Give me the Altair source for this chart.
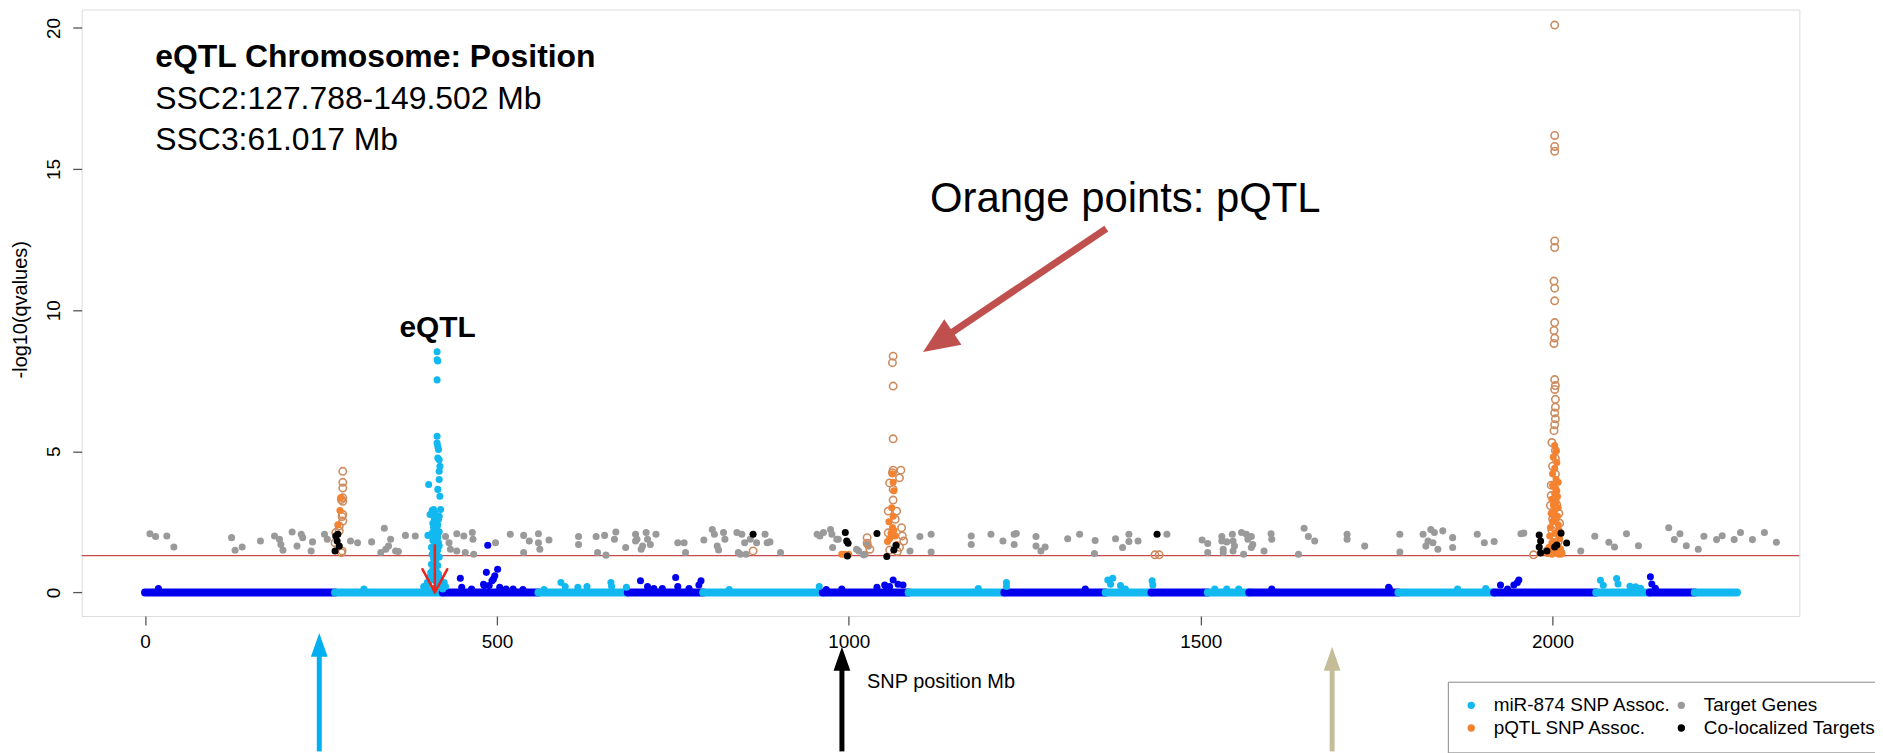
import altair as alt
import pandas as pd

FONT = "Liberation Sans"

# ---------------- data ----------------
# chromosome segments along the baseline (SNP position, Mb)
chr_start = [0, 270, 423, 559, 686, 793, 963, 1085, 1221, 1365, 1430, 1510, 1569, 1781, 1917, 2062, 2138, 2202]
chr_end = [270, 423, 559, 686, 793, 963, 1085, 1221, 1365, 1430, 1510, 1569, 1781, 1917, 2062, 2138, 2202, 2262]

# small associations on the dark-blue chromosomes
blue_x = [19, 448, 450, 464, 481, 482, 485, 489, 493, 495, 497, 501, 504, 513, 523, 537, 487,
          704, 714, 723, 735, 754, 757, 773, 787, 790,
          968, 990, 1040, 1051, 1054, 1058, 1063, 1070, 1077,
          1336, 1601, 1767, 1768, 1926, 1936, 1945, 1950, 1952, 2139, 2141, 2146]
blue_y = [0.14, 0.50, 0.18, 0.12, 0.29, 0.24, 0.71, 0.24, 0.41, 0.47, 0.59, 0.82, 0.18, 0.12, 0.12, 0.10, 1.67,
          0.41, 0.21, 0.14, 0.14, 0.53, 0.21, 0.14, 0.26, 0.41,
          0.10, 0.12, 0.18, 0.26, 0.14, 0.21, 0.44, 0.29, 0.26,
          0.12, 0.12, 0.18, 0.14, 0.26, 0.12, 0.26, 0.35, 0.44, 0.55, 0.30, 0.15]

# miR-874 SNP associations (light blue), incl. the eQTL peak
cyan_x = [311, 396, 401, 406, 425, 427, 567, 591, 597, 615, 628, 662, 663, 684, 830, 958, 1184,
          1224, 1224, 1368, 1375, 1372, 1386, 1393, 1431, 1432, 1520, 1537, 1554, 1865, 1905,
          2068, 2072, 2091, 2093, 2110, 2118, 2125,
          415, 415, 416, 415, 415, 415, 416, 417, 416, 418, 419, 418, 403, 418, 416, 419, 410, 420,
          405, 417, 415, 402, 410, 417,
          408, 412, 418, 411, 413, 409, 416, 410, 413, 418, 408, 412, 416, 409, 414, 411, 418, 407,
          413, 416, 410, 412, 408, 415, 418, 410, 413, 407, 416, 411, 409, 414, 406, 417, 411, 405,
          419, 408, 413, 403, 416, 420, 400, 410, 423, 398]
cyan_y = [0.12, 0.21, 0.35, 0.47, 0.35, 0.21, 0.10, 0.35, 0.21, 0.18, 0.21, 0.35, 0.21, 0.18, 0.10, 0.21, 0.14,
          0.35, 0.21, 0.44, 0.50, 0.29, 0.24, 0.12, 0.41, 0.26, 0.12, 0.12, 0.12, 0.12, 0.14,
          0.43, 0.25, 0.49, 0.30, 0.22, 0.20, 0.15,
          8.53, 8.24, 8.20, 7.53, 5.53, 5.29, 5.17, 5.06, 4.76, 4.70, 4.47, 4.29, 3.82, 4.00, 3.65, 3.41, 2.94, 2.94,
          2.76, 2.59, 2.35, 2.02, 1.88, 1.76,
          2.90, 2.80, 2.70, 2.60, 2.50, 2.45, 2.40, 2.30, 2.20, 2.15, 2.10, 2.00, 1.95, 1.85, 1.80, 1.70, 1.65, 1.60,
          1.55, 1.50, 1.45, 1.40, 1.35, 1.30, 1.25, 1.20, 1.10, 1.00, 0.95, 0.90, 0.80, 0.75, 0.70, 0.65, 0.60, 0.55,
          0.50, 0.45, 0.40, 0.35, 0.30, 0.25, 0.20, 0.15, 0.12, 0.10]

# target genes (grey)
gene_x = [7, 15, 31, 41, 123, 128, 138, 164, 184, 191, 193, 196, 209, 216, 222, 224, 238, 236, 255, 259,
          292, 302, 322, 340, 335, 342, 346, 349, 356, 360, 370, 384, 427, 432, 434, 443, 443, 453, 455, 465,
          466, 467, 498, 519, 538, 538, 546, 559, 559,
          561, 574, 616, 616, 641, 643, 653, 655, 669, 667, 683, 697, 697, 699, 705, 707, 712, 714, 718, 726,
          757, 766, 768, 794, 806, 809, 813, 815, 822, 824, 841, 848, 843, 852, 854, 846, 860, 869, 881, 884,
          888, 903, 955, 964, 974, 976, 977, 985, 959, 983, 1011, 1021, 1028, 1014, 1023, 1026, 1087, 1101,
          1117, 1117, 1174, 1174, 1202,
          1219, 1235, 1235, 1238, 1266, 1266, 1273, 1279, 1311, 1328, 1350, 1349, 1379, 1389, 1398, 1398, 1411,
          1452, 1502, 1510, 1510, 1530, 1530, 1532, 1532, 1537, 1545, 1546, 1546, 1548, 1558, 1561, 1565, 1567,
          1572, 1572, 1574, 1590, 1600, 1601, 1639, 1647, 1653, 1662, 1708, 1708, 1733, 1783, 1783,
          1816, 1823, 1827, 1830, 1832, 1837, 1844, 1820, 1858, 1858, 1893, 1903, 1917, 1955, 1959,
          2040, 2060, 2080, 2088, 2105, 2122, 2165, 2173, 2181, 2190, 2207, 2215, 2233, 2241, 2258, 2267,
          2284, 2301, 2318]
gene_y = [2.08, 1.98, 2.00, 1.61, 1.94, 1.49, 1.61, 1.82, 2.00, 1.88, 1.70, 1.49, 2.14, 1.64, 2.06, 1.94, 1.79,
          1.47, 2.06, 1.88, 1.82, 1.76, 1.79, 2.27, 1.41, 1.53, 1.64, 1.88, 1.47, 1.45, 2.02, 2.00, 1.98, 1.76,
          1.53, 2.08, 1.47, 2.00, 1.41, 2.12, 1.88, 1.35, 1.76, 2.06, 2.02, 1.41, 1.82, 2.08, 1.76,
          1.53, 1.86, 1.98, 1.70, 1.98, 1.41, 2.02, 1.32, 2.14, 1.88, 1.59, 2.06, 1.82, 1.88, 1.53, 1.64, 2.12,
          1.88, 1.70, 2.06, 1.76, 1.76, 1.41, 1.86, 2.23, 2.06, 1.64, 1.50, 2.12, 1.88, 2.12, 2.06, 1.41, 1.76,
          1.35, 1.35, 1.88, 1.76, 2.06, 1.76, 1.79, 1.41, 2.06, 2.12, 2.23, 2.06, 1.59, 1.88, 2.00, 1.88, 1.53,
          1.33, 1.64, 1.47, 1.35, 1.70, 1.47, 1.98, 2.06, 1.43, 2.00, 1.70, 2.06,
          1.82, 2.06, 1.70, 2.09, 1.98, 1.64, 1.47, 1.61, 1.90, 2.06, 1.84, 1.38, 1.90, 1.59, 2.06, 1.80, 1.82,
          2.06, 1.86, 1.73, 1.41, 1.98, 1.82, 1.53, 1.41, 1.79, 2.06, 1.82, 1.47, 1.64, 2.12, 1.35, 2.06, 1.88,
          1.98, 1.59, 1.70, 1.47, 2.08, 1.88, 1.35, 2.27, 1.98, 1.82, 2.06, 1.88, 1.64, 2.06, 1.43,
          2.06, 1.82, 2.23, 1.76, 2.12, 1.53, 2.18, 1.64, 1.94, 1.59, 2.06, 1.76, 1.80, 2.08, 2.10,
          1.47, 1.99, 1.78, 1.61, 2.08, 1.65, 2.29, 1.87, 2.08, 1.65, 1.53, 1.99, 1.87, 2.01, 1.87, 2.12,
          1.87, 2.12, 1.78]

# co-localized targets (black)
coloc_x = [271, 274, 273, 276, 270, 864, 995, 997, 999, 998, 1040, 1067, 1064, 1054, 1438,
           1981, 1983, 1981, 1983, 1992, 2012, 2003, 2006, 2020]
coloc_y = [2.00, 2.06, 1.82, 1.64, 1.47, 2.06, 2.12, 1.82, 1.74, 1.29, 2.09, 1.67, 1.50, 1.27, 2.06,
           2.03, 1.82, 1.61, 1.40, 1.47, 2.10, 1.61, 1.68, 1.75]

# pQTL SNP associations, filled (orange)
pqtl_fill_x = [278, 277, 274, 990, 994, 1000, 1055, 1058, 1060, 1062, 1066, 1064, 1068, 1057, 1063, 1061,
               1064, 1063, 1062,
               2003, 2005, 2001, 2006, 2003, 2000, 2005, 2008, 2000, 2006, 2003, 2007, 1999, 2005, 2001, 2008,
               2003, 1998, 2007, 2005, 2000, 2008, 1997, 2009, 2003, 1996, 2010, 2001, 2006, 1995, 2011, 2003,
               1994, 2012, 2005, 1993, 2013, 1999, 2009, 2004, 2002, 2007, 1999]
pqtl_fill_y = [3.35, 2.90, 2.40, 1.35, 1.35, 1.35, 1.80, 1.90, 2.10, 2.30, 2.00, 2.20, 1.70, 2.50, 2.70, 3.00,
               3.60, 3.90, 4.20,
               5.20, 5.00, 4.80, 4.60, 4.40, 4.20, 4.00, 3.90, 3.80, 3.60, 3.50, 3.40, 3.30, 3.20, 3.10, 3.00,
               2.90, 2.80, 2.70, 2.60, 2.50, 2.40, 2.30, 2.20, 2.10, 2.00, 1.90, 1.80, 1.70, 1.60, 1.55, 1.50,
               1.45, 1.42, 1.40, 1.38, 1.36, 1.35, 1.35, 3.70, 2.65, 2.05, 1.75]

# pQTL SNP associations, open circles
pqtl_open_x = [281, 281, 281, 281, 279, 281, 281, 280, 281, 276, 276, 271, 270, 280, 279,
               864,
               1063, 1062, 1063, 1063, 1063, 1074, 1062, 1072, 1058, 1063, 1063, 1056, 1068, 1066, 1075, 1056,
               1026, 1026, 1030, 1076, 1078, 1069, 1072, 1058,
               1435, 1441, 1973,
               2003, 2003, 2003, 2003, 2003, 2003, 2002, 2003, 2003, 2003, 2002, 2003, 2002, 2003, 2004, 2003,
               2004, 2004, 2003, 2004, 2003, 2002, 1999, 2004, 2004, 2000, 2004, 1998, 1998, 1997, 2009, 2010,
               2009, 1992, 2012, 2000, 2006, 1999, 2008]
pqtl_open_y = [4.29, 3.90, 3.70, 3.35, 3.29, 3.23, 2.76, 2.69, 2.53, 2.35, 2.18, 2.12, 1.76, 1.47, 1.41,
               1.47,
               8.37, 8.14, 7.31, 5.44, 4.33, 4.33, 4.24, 4.06, 3.88, 3.65, 3.27, 2.88, 2.88, 2.59, 2.29, 2.11,
               1.94, 1.74, 1.53, 2.00, 1.82, 1.45, 1.60, 1.50,
               1.33, 1.33, 1.33,
               20.10, 16.19, 15.80, 15.63, 12.45, 12.22, 11.03, 10.78, 10.33, 9.56, 9.28, 9.01, 8.82, 7.54, 7.33,
               7.19, 6.84, 6.56, 6.36, 6.15, 5.94, 5.73, 5.31, 5.03, 4.75, 4.47, 4.19, 3.80, 3.43, 3.08, 2.80,
               2.45, 2.10, 1.47, 1.40, 2.60, 3.10, 2.20, 1.80]

THRESH = 1.3  # -log10(0.05) significance line
x_ticks = [0, 500, 1000, 1500, 2000]
y_ticks = [0, 5, 10, 15, 20]

LBL_MIR = "miR-874 SNP Assoc."
LBL_MIR2 = "miR-874 SNP Assoc. (alt. chromosome)"
LBL_GENE = "Target Genes"
LBL_PQTL = "pQTL SNP Assoc."
LBL_COLOC = "Co-localized Targets"
legend_labels = [LBL_MIR, LBL_PQTL, LBL_GENE, LBL_COLOC]

CYAN = "#12B8F0"
BLUE = "#0000EE"
GREY = "#9A9A9A"
ORANGE = "#F4822F"
OPEN = "#CD8C5F"

# ---------------- tables ----------------
band_df = pd.DataFrame({
    "start": chr_start,
    "end": chr_end,
    "band": ["dark" if i % 2 == 0 else "light" for i in range(len(chr_start))],
})

pts1 = pd.concat([
    pd.DataFrame({"x": gene_x, "y": gene_y, "grp": LBL_GENE}),
    pd.DataFrame({"x": blue_x, "y": blue_y, "grp": LBL_MIR2}),
    pd.DataFrame({"x": cyan_x, "y": cyan_y, "grp": LBL_MIR}),
], ignore_index=True)
pts2 = pd.concat([
    pd.DataFrame({"x": pqtl_fill_x, "y": pqtl_fill_y, "grp": LBL_PQTL}),
    pd.DataFrame({"x": coloc_x, "y": coloc_y, "grp": LBL_COLOC}),
], ignore_index=True)
open_df = pd.DataFrame({"x": pqtl_open_x, "y": pqtl_open_y})
one = pd.DataFrame({"k": [0]})

# ---------------- scales / axes ----------------
xscale = alt.Scale(domain=[-90, 2350.6], nice=False, zero=False)
yscale = alt.Scale(domain=[-0.836, 20.65], nice=False, zero=False)
xaxis = alt.Axis(values=x_ticks, format="d", title="SNP position Mb", domain=False, grid=False,
                 tickSize=9, tickWidth=1.3, tickColor="#555555",
                 labelFont=FONT, labelFontSize=19, labelColor="black", labelPadding=8,
                 titleFont=FONT, titleFontSize=20, titleFontWeight="normal", titleColor="black",
                 titleX=862.5, titleY=72, titleAlign="center", titleBaseline="alphabetic")
yaxis = alt.Axis(values=y_ticks, format="d", title="-log10(qvalues)", domain=False, grid=False,
                 tickSize=9, tickWidth=1.3, tickColor="#555555",
                 labelFont=FONT, labelFontSize=19, labelColor="black", labelPadding=9,
                 labelAngle=270, labelAlign="center", labelBaseline="bottom",
                 titleFont=FONT, titleFontSize=20, titleFontWeight="normal", titleColor="black",
                 titleAngle=270, titleX=-55, titleY=301, titleAlign="center", titleBaseline="alphabetic")

color_scale = alt.Scale(domain=[LBL_MIR, LBL_GENE, LBL_PQTL, LBL_COLOC, LBL_MIR2],
                        range=[CYAN, GREY, ORANGE, "black", BLUE])
LEG = alt.Legend(values=legend_labels, orient="none", legendX=1372, legendY=675, columns=2,
                 title=None, labelFont=FONT, labelFontSize=19, labelColor="black", labelLimit=400,
                 symbolType="circle", symbolSize=55, symbolStrokeWidth=0, symbolOpacity=1,
                 labelOffset=13, columnPadding=0, rowPadding=3, padding=14,
                 strokeColor="#888888", fillColor="white")

X = alt.X("x:Q", scale=xscale, axis=xaxis)
Y = alt.Y("y:Q", scale=yscale, axis=yaxis)

band = alt.Chart(band_df).mark_rule(strokeWidth=8, strokeCap="round").encode(
    x=alt.X("start:Q", scale=xscale, axis=xaxis),
    x2="end:Q",
    y=alt.datum(0, scale=yscale, axis=yaxis),
    stroke=alt.Stroke("band:N", scale=alt.Scale(domain=["dark", "light"], range=[BLUE, CYAN]), legend=None),
)

thresh = alt.Chart(one).mark_rule(color="#C44B4B", strokeWidth=1.2).encode(
    y=alt.datum(THRESH)
)

layer1 = alt.Chart(pts1).mark_circle(size=50, opacity=1).encode(
    x=X, y=Y, color=alt.Color("grp:N", scale=color_scale, legend=LEG, sort=None)
)
open_layer = alt.Chart(open_df).mark_point(shape="circle", filled=False, size=55, strokeWidth=1.6,
                                           color=OPEN, opacity=1).encode(x=X, y=Y)
layer2 = alt.Chart(pts2).mark_circle(size=50, opacity=1).encode(
    x=X, y=Y, color=alt.Color("grp:N", scale=color_scale, legend=LEG, sort=None)
)

# ---------------- annotations (pixel positions within the plot area) ----------------
def txt(s, x, y, size, weight="normal", align="left"):
    return alt.Chart(one).mark_text(text=s, font=FONT, fontSize=size, fontWeight=weight,
                                    align=align, baseline="alphabetic", color="black").encode(
        x=alt.value(x), y=alt.value(y))

def seg(x1, y1, x2, y2, color, w, cap="butt"):
    return alt.Chart(one).mark_rule(color=color, strokeWidth=w, strokeCap=cap).encode(
        x=alt.value(x1), y=alt.value(y1), x2=alt.value(x2), y2=alt.value(y2))

def head(x, y, angle, size, color, half=0.857):
    path = f"M0,0 L{half},2 L{-half},2 Z"
    return alt.Chart(one).mark_point(shape=path, size=size, angle=angle, filled=True,
                                     color=color, opacity=1, strokeWidth=0).encode(
        x=alt.value(x), y=alt.value(y))

ann = [
    txt("eQTL Chromosome: Position", 74, 58, 32, "bold"),
    txt("SSC2:127.788-149.502 Mb", 74, 99.5, 32),
    txt("SSC3:61.017 Mb", 74, 141.5, 32),
    txt("eQTL", 357.5, 329, 30, "bold", "center"),
    txt("Orange points: pQTL", 852, 203, 42),
    # red eQTL arrow
    seg(354.7, 537, 354.7, 585, "#E8251E", 2.5),
    seg(342.2, 562, 354.7, 585.3, "#E8251E", 2.5, "round"),
    seg(367.2, 562, 354.7, 585.3, "#E8251E", 2.5, "round"),
    # big pQTL arrow
    seg(1029, 220, 870, 327, "#C0504D", 7),
    head(845, 344, 236, 1300, "#C0504D"),
    # bottom arrows
    seg(238.6, 648, 238.6, 745, "#00B0F0", 5),
    head(238.6, 626, 0, 576, "#00B0F0", 0.7),
    seg(763.5, 662, 763.5, 745, "black", 5),
    head(763.5, 640, 0, 576, "black", 0.7),
    seg(1255.8, 662, 1255.8, 745, "#C4BD97", 5),
    head(1255.8, 640, 0, 576, "#C4BD97", 0.7),
]

chart = alt.layer(band, thresh, layer1, open_layer, layer2, *ann).properties(
    width=1725, height=609,
    autosize=alt.AutoSizeParams(type="none"),
    padding={"left": 74, "top": 0, "right": 76, "bottom": 136},
).configure_view(stroke="#555555", strokeWidth=1.5).configure(background="white")

chart.save("out.html", embed_options={"renderer": "svg", "actions": False})
